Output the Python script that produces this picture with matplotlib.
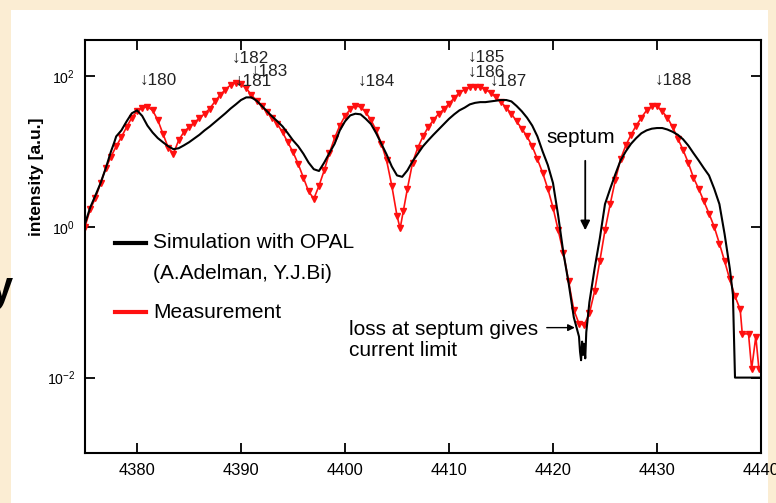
import matplotlib
matplotlib.use("Agg")
import matplotlib.pyplot as plt
from matplotlib import font_manager
from matplotlib.lines import Line2D
from matplotlib.patches import Rectangle

# simulation (OPAL) turn pattern
sim_x = [4375.0, 4375.5, 4376.0, 4376.5, 4377.0, 4377.5, 4377.8, 4378.0, 4378.5, 4379.0,
         4379.5, 4380.0, 4380.5, 4381.0, 4381.5, 4382.0, 4382.5, 4383.0, 4383.5, 4384.0,
         4384.5, 4385.0, 4385.5, 4386.0, 4386.5, 4387.0, 4387.5, 4388.0, 4388.5, 4389.0,
         4389.5, 4390.0, 4390.5, 4391.0, 4391.5, 4392.0, 4392.5, 4393.0, 4393.5, 4394.0,
         4394.5, 4395.0, 4395.5, 4396.0, 4396.5, 4397.0, 4397.5, 4398.0, 4398.5, 4399.0,
         4399.5, 4400.0, 4400.5, 4401.0, 4401.5, 4402.0, 4402.5, 4403.0, 4403.5, 4404.0,
         4404.5, 4405.0, 4405.5, 4406.0, 4406.5, 4407.0, 4407.5, 4408.0, 4408.5, 4409.0,
         4409.5, 4410.0, 4410.5, 4411.0, 4411.5, 4412.0, 4412.5, 4413.0, 4413.5, 4414.0,
         4414.5, 4415.0, 4415.5, 4416.0, 4416.5, 4417.0, 4417.5, 4418.0, 4418.5, 4419.0,
         4419.5, 4420.0, 4420.5, 4421.0, 4421.5, 4422.0, 4422.5, 4422.6, 4422.7, 4422.8,
         4422.9, 4423.0, 4423.1, 4423.2, 4423.5, 4424.0, 4424.5, 4424.8, 4425.0, 4425.5,
         4426.0, 4426.5, 4427.0, 4427.5, 4428.0, 4428.5, 4429.0, 4429.5, 4430.0, 4430.5,
         4431.0, 4431.5, 4432.0, 4432.5, 4433.0, 4433.5, 4434.0, 4434.5, 4435.0, 4435.5,
         4436.0, 4436.5, 4437.0, 4437.3, 4437.5, 4438.0, 4439.0, 4440.0]
sim_y = [1.1, 1.8, 2.6, 3.8, 6.0, 10.0, 13.0, 15.8, 19.0, 25.0,
         32.0, 35.0, 29.5, 22.0, 17.8, 15.0, 13.2, 11.7, 10.7, 11.0,
         12.0, 13.2, 14.8, 16.6, 19.0, 21.4, 24.5, 28.0, 32.0, 37.0,
         42.0, 48.0, 52.0, 52.0, 47.0, 40.0, 34.0, 29.0, 25.0, 21.4,
         17.4, 14.0, 11.7, 9.3, 7.1, 5.8, 5.5, 7.1, 9.5, 12.6,
         19.0, 25.0, 30.0, 31.6, 31.0, 27.0, 23.0, 17.4, 12.6, 9.1,
         6.3, 4.8, 4.6, 5.6, 7.4, 9.3, 11.7, 14.0, 16.6, 19.5,
         23.0, 27.0, 31.0, 35.0, 38.0, 42.0, 44.0, 45.0, 45.0, 46.0,
         47.0, 48.0, 48.0, 46.0, 40.0, 34.0, 28.0, 22.0, 15.8, 10.0,
         6.6, 3.8, 1.4, 0.45, 0.18, 0.063, 0.035, 0.022, 0.017, 0.03,
         0.02, 0.028, 0.018, 0.04, 0.1, 0.28, 0.7, 1.3, 2.0, 3.2,
         5.0, 7.6, 10.0, 12.6, 15.0, 17.4, 19.0, 20.0, 20.4, 20.4,
         19.5, 18.2, 16.6, 14.5, 12.0, 9.5, 7.6, 6.0, 4.8, 3.2,
         2.0, 0.8, 0.28, 0.126, 0.01, 0.01, 0.01, 0.01]

# measured turn pattern
meas_x = [4375.0, 4375.5, 4376.0, 4376.5, 4377.0, 4377.5, 4378.0, 4378.5, 4379.0, 4379.5,
          4380.0, 4380.5, 4381.0, 4381.5, 4382.0, 4382.5, 4383.0, 4383.5, 4384.0, 4384.5,
          4385.0, 4385.5, 4386.0, 4386.5, 4387.0, 4387.5, 4388.0, 4388.5, 4389.0, 4389.5,
          4390.0, 4390.5, 4391.0, 4391.5, 4392.0, 4392.5, 4393.0, 4393.5, 4394.0, 4394.5,
          4395.0, 4395.5, 4396.0, 4396.5, 4397.0, 4397.5, 4398.0, 4398.5, 4399.0, 4399.5,
          4400.0, 4400.5, 4401.0, 4401.5, 4402.0, 4402.5, 4403.0, 4403.5, 4404.0, 4404.5,
          4405.0, 4405.3, 4405.6, 4406.0, 4406.5, 4407.0, 4407.5, 4408.0, 4408.5, 4409.0,
          4409.5, 4410.0, 4410.5, 4411.0, 4411.5, 4412.0, 4412.5, 4413.0, 4413.5, 4414.0,
          4414.5, 4415.0, 4415.5, 4416.0, 4416.5, 4417.0, 4417.5, 4418.0, 4418.5, 4419.0,
          4419.5, 4420.0, 4420.5, 4421.0, 4421.5, 4422.0, 4422.5, 4423.0, 4423.5, 4424.0,
          4424.5, 4425.0, 4425.5, 4426.0, 4426.5, 4427.0, 4427.5, 4428.0, 4428.5, 4429.0,
          4429.5, 4430.0, 4430.5, 4431.0, 4431.5, 4432.0, 4432.5, 4433.0, 4433.5, 4434.0,
          4434.5, 4435.0, 4435.5, 4436.0, 4436.5, 4437.0, 4437.5, 4438.0, 4438.2, 4438.8,
          4439.1, 4439.5, 4439.8]
meas_y = [1.0, 1.7, 2.4, 3.8, 6.0, 8.5, 11.7, 15.5, 21.0, 28.0,
          34.0, 38.0, 39.0, 35.0, 26.0, 17.0, 11.2, 9.3, 14.0, 18.0,
          21.0, 24.0, 27.5, 31.6, 37.0, 46.0, 56.0, 66.0, 76.0, 81.0,
          78.0, 69.0, 56.0, 47.0, 40.0, 33.0, 27.5, 23.0, 17.8, 13.2,
          9.8, 6.8, 4.5, 2.95, 2.35, 3.5, 5.6, 9.5, 15.0, 22.0,
          29.5, 36.0, 40.0, 39.0, 33.0, 26.0, 19.0, 12.6, 7.6, 3.5,
          1.4, 0.95, 1.6, 3.2, 7.1, 11.2, 15.8, 21.0, 26.0, 31.6,
          36.0, 43.0, 51.0, 60.0, 66.0, 71.0, 72.0, 71.0, 66.0, 60.0,
          52.0, 45.0, 38.0, 31.6, 25.0, 20.0, 15.8, 11.7, 7.9, 5.2,
          3.2, 1.8, 0.9, 0.45, 0.19, 0.079, 0.052, 0.05, 0.071, 0.14,
          0.35, 0.9, 2.0, 4.2, 7.9, 12.0, 16.6, 22.0, 28.0, 35.0,
          40.0, 40.0, 34.0, 28.0, 21.0, 14.8, 10.5, 7.1, 4.5, 3.2,
          2.2, 1.5, 1.0, 0.6, 0.35, 0.2, 0.12, 0.08, 0.038, 0.038,
          0.013, 0.035, 0.013]

# turn-number markers: label, x, y
turn_labels = ["180", "182", "181", "183", "184", "185", "186", "187", "188"]
turn_x = [4380.3, 4389.1, 4389.4, 4390.9, 4401.2, 4411.8, 4411.8, 4413.95, 4429.8]
turn_y = [87, 170, 85, 115, 85, 178, 113, 85, 88]

xticks = [4380, 4390, 4400, 4410, 4420, 4430, 4440]
yticks = [1e-2, 1e0, 1e2]

_installed = {f.name for f in font_manager.fontManager.ttflist}
if "Liberation Sans Narrow" in _installed:
    NARROW, nscale = "Liberation Sans Narrow", 1.0
else:
    NARROW, nscale = "Liberation Sans", 0.85
plt.rcParams["font.family"] = ["Liberation Sans", "DejaVu Sans"]
plt.rcParams["mathtext.default"] = "regular"

fig = plt.figure(figsize=(7.76, 5.03), dpi=100, facecolor="#fbedd3")
fig.patches.append(Rectangle((11 / 776, 0), 757 / 776, 1 - 10 / 503,
                             transform=fig.transFigure, facecolor="white",
                             edgecolor="none", zorder=-10))
ax = fig.add_axes([85 / 776, 50 / 503, 676 / 776, 413 / 503])
ax.set_facecolor("white")

ax.plot(sim_x, sim_y, color="black", lw=1.5, zorder=3)
ax.plot(meas_x, meas_y, color="#ff1010", lw=1.2, marker="v", ms=4,
        mec="#ff1010", mfc="#ff1010", zorder=2)

ax.set_yscale("log")
ax.set_xlim(4375, 4440)
ax.set_ylim(1e-3, 3e2)
ax.set_xticks(xticks)
ax.set_yticks(yticks)
ax.minorticks_off()
ax.tick_params(direction="in", length=7, width=1.3, top=True, right=True,
               labelsize=14 * nscale, pad=7)
for lab in ax.get_xticklabels() + ax.get_yticklabels():
    lab.set_fontfamily(NARROW)
for lab in ax.get_yticklabels():
    lab.set_fontsize(12 * nscale)
for sp in ax.spines.values():
    sp.set_linewidth(1.5)

for lab, x, y in zip(turn_labels, turn_x, turn_y):
    ax.text(x, y, "\u2193" + lab, ha="left", va="center", fontsize=14.5 * nscale,
            family=[NARROW, "DejaVu Sans"], color="#222222", zorder=4)

ax.text(4422.7, 15.5, "septum", ha="center", va="center", fontsize=15)
ax.annotate("", xy=(4423.1, 0.9), xytext=(4423.1, 7.5),
            arrowprops=dict(arrowstyle="-|>", color="black", lw=1.3,
                            mutation_scale=14, shrinkA=0, shrinkB=0))
ax.text(4400.4, 0.0314, "loss at septum gives\ncurrent limit", ha="left",
        va="center", fontsize=15, linespacing=1.15)
ax.annotate("", xy=(4422.1, 0.046), xytext=(4419.4, 0.046),
            arrowprops=dict(arrowstyle="-|>", color="black", lw=1.0,
                            mutation_scale=10, shrinkA=0, shrinkB=0))

# hand-made legend
ax.add_line(Line2D([0.044, 0.090], [0.5085, 0.5085], transform=ax.transAxes,
                   color="black", lw=3))
ax.add_line(Line2D([0.044, 0.090], [0.3414, 0.3414], transform=ax.transAxes,
                   color="#ff1010", lw=3))
ax.text(0.1006, 0.5085, "Simulation with OPAL", transform=ax.transAxes,
        va="center", fontsize=15)
ax.text(0.1006, 0.4358, "(A.Adelman, Y.J.Bi)", transform=ax.transAxes,
        va="center", fontsize=15)
ax.text(0.1006, 0.3414, "Measurement", transform=ax.transAxes,
        va="center", fontsize=15)

fig.text(36 / 776, 1 - 177 / 503, "intensity [a.u.]", rotation=90, ha="center",
         va="center", fontsize=12.5, fontweight="bold")
fig.text(13 / 776, 1 - 290 / 503, "y", ha="right", va="center", fontsize=30,
         fontweight="bold")

fig.savefig("out.png", dpi=100, facecolor=fig.get_facecolor())
